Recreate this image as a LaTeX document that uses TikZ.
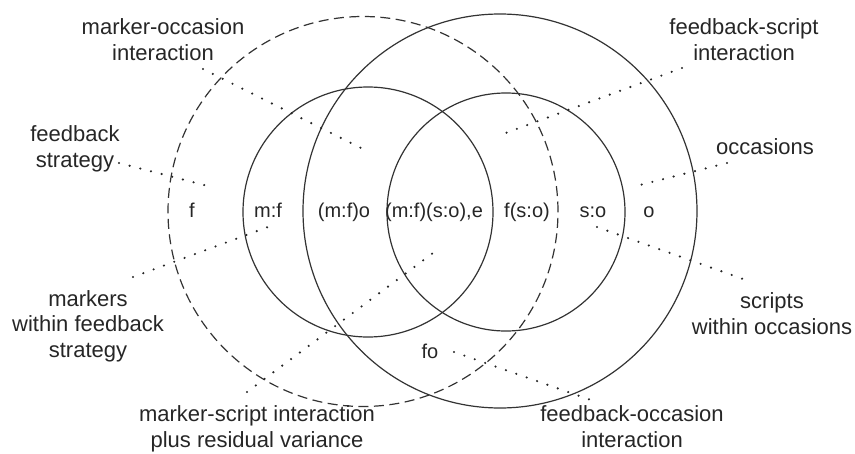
\documentclass[tikz,border=0pt]{standalone}
\usepackage{fontspec}
\setmainfont{Liberation Sans}
\begin{document}
\begin{tikzpicture}[x=1pt,y=-1pt,
  ring/.style={draw=black!80, line width=1.2pt},
  dashring/.style={draw=black!80, line width=1.2pt, dash pattern=on 10pt off 5.5pt},
  dotline/.style={draw=black!85, line width=2.4pt, line cap=round, dash pattern=on 0pt off 11pt},
  lbl/.style={inner sep=0pt, align=center, text=black!85, font=\fontsize{22}{25.5}\selectfont},
  inlbl/.style={inner sep=0pt, anchor=base, text=black!85, font=\fontsize{20}{24}\selectfont}]
\useasboundingbox (0,0) rectangle (855,453);
% circles
\draw[dashring] (363,211.5) circle[radius=195pt];
\draw[ring] (500,211) circle[radius=197pt];
\draw[ring] (368,212) circle[radius=125pt];
\draw[ring] (506,212) circle[radius=119pt];
% region labels
\node[inlbl] (f) at (192,217) {f};
\node[inlbl] (mf) at (268,217) {m:f};
\node[inlbl] (mfo) at (344,217) {(m:f)o};
\node[inlbl] (mfsoe) at (434,217) {(m:f)(s:o),e};
\node[inlbl] (fso) at (527,217) {f(s:o)};
\node[inlbl] (so) at (593,217) {s:o};
\node[inlbl] (o) at (649,217) {o};
\node[inlbl] (fo) at (430,358) {fo};
% outer labels (base anchor = baseline of last line)
\node[lbl, anchor=base] (lmo) at (163,60) {marker-occasion\\interaction};
\node[lbl, anchor=base] (lfs) at (75,167) {feedback\\strategy};
\node[lbl, anchor=base] (lfsc) at (744,60) {feedback-script\\interaction};
\node[lbl, anchor=base] (locc) at (765,154) {occasions};
\node[lbl, anchor=base] (lsc) at (772,334) {scripts\\within occasions};
\node[lbl, anchor=base] (lfo) at (632,447) {feedback-occasion\\interaction};
\node[lbl, anchor=base] (lmk) at (88,357) {markers\\within feedback\\strategy};
\node[lbl, anchor=base] (lms) at (257,447) {marker-script interaction\\plus residual variance};
% connector end points
\coordinate (a1) at (119,163); \coordinate (a2) at (208,186);
\coordinate (b1) at (203,69);  \coordinate (b2) at (363,149);
\coordinate (c1) at (682,68);  \coordinate (c2) at (503,134);
\coordinate (d1) at (727,163); \coordinate (d2) at (640,185);
\coordinate (e1) at (597,227); \coordinate (e2) at (743,279);
\coordinate (g1) at (454,352); \coordinate (g2) at (591,400);
\coordinate (h1) at (247,392); \coordinate (h2) at (433,253);
\coordinate (k1) at (133,277); \coordinate (k2) at (268,227);
% dotted connectors
\draw[dotline] (a1) -- (a2);
\draw[dotline] (b1) -- (b2);
\draw[dotline] (c1) -- (c2);
\draw[dotline] (d1) -- (d2);
\draw[dotline] (e1) -- (e2);
\draw[dotline] (g1) -- (g2);
\draw[dotline] (h1) -- (h2);
\draw[dotline] (k1) -- (k2);
\end{tikzpicture}
\end{document}
